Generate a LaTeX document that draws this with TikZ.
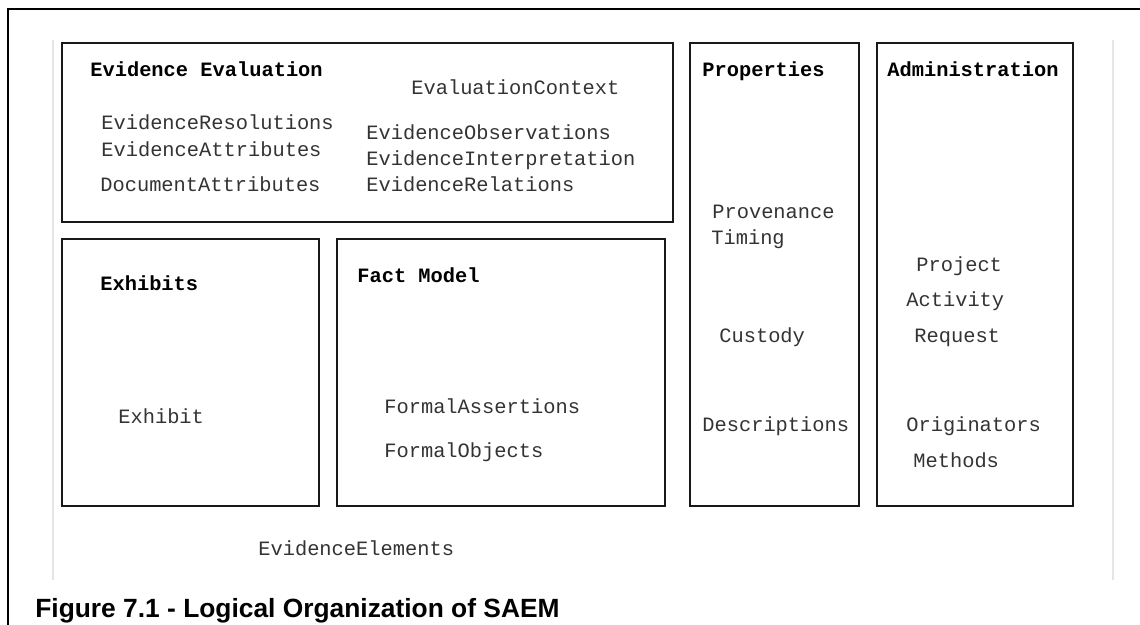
\documentclass[tikz,border=0pt]{standalone}
\usepackage{fontspec}
\setmainfont{Liberation Sans}
\setmonofont{Liberation Mono}

\begin{document}
\begin{tikzpicture}[x=0.02cm, y=-0.02cm,
  pkgbox/.style={draw=black!90, line width=1.4pt},
  pkgtitle/.style={anchor=base west, inner sep=0pt,
                   font=\fontsize{11.6}{13}\selectfont\ttfamily\bfseries},
  member/.style={anchor=base west, inner sep=0pt, text=black!80,
                 font=\fontsize{11.6}{13}\selectfont\ttfamily}]
  \useasboundingbox (0,0) rectangle (1140,625);
  \clip (0,0) rectangle (1140,625);

  % Page frame
  \draw[line width=1.1pt] (8,625) -- (8,9) -- (1140,9);
  \draw[gray!20, line width=0.8pt] (53,40) -- (53,580) (1113,40) -- (1113,580);

  % Package boxes
  \draw[pkgbox] (62,43) rectangle (673,222);
  \draw[pkgbox] (690,43) rectangle (859,506);
  \draw[pkgbox] (877,43) rectangle (1073,506);
  \draw[pkgbox] (62,239) rectangle (319,506);
  \draw[pkgbox] (337,239) rectangle (665,506);

  % Evidence Evaluation
  \node[pkgtitle] (evaltitle) at (90,77) {Evidence Evaluation};
  \node[member] (evalctx) at (411,95) {EvaluationContext};
  \node[member] (resol) at (101,130) {EvidenceResolutions};
  \node[member] (evattr) at (101,156) {EvidenceAttributes};
  \node[member] (docattr) at (100,192) {DocumentAttributes};
  \node[member] (observ) at (366,140) {EvidenceObservations};
  \node[member] (interp) at (366,166) {EvidenceInterpretation};
  \node[member] (relat) at (366,192) {EvidenceRelations};

  % Properties
  \node[pkgtitle] (proptitle) at (702,77) {Properties};
  \node[member] (proven) at (712,218) {Provenance};
  \node[member] (timing) at (711,244) {Timing};
  \node[member] (custody) at (719,342) {Custody};
  \node[member] (descr) at (702,431) {Descriptions};

  % Administration
  \node[pkgtitle] (admintitle) at (887,77) {Administration};
  \node[member] (project) at (916,271) {Project};
  \node[member] (activity) at (906,306) {Activity};
  \node[member] (request) at (914,342) {Request};
  \node[member] (origin) at (906,431) {Originators};
  \node[member] (methods) at (913,467) {Methods};

  % Exhibits
  \node[pkgtitle] (exhtitle) at (100,290) {Exhibits};
  \node[member] (exhibit) at (118,423) {Exhibit};

  % Fact Model
  \node[pkgtitle] (facttitle) at (357,282) {Fact Model};
  \node[member] (fassert) at (384,413) {FormalAssertions};
  \node[member] (fobject) at (384,457) {FormalObjects};

  % Container name and caption
  \node[member] (elements) at (258,555) {EvidenceElements};
  \node[anchor=base west, inner sep=0pt, font=\fontsize{15}{18}\selectfont\bfseries]
    (caption) at (35,617) {Figure 7.1 - Logical Organization of SAEM};
\end{tikzpicture}
\end{document}
